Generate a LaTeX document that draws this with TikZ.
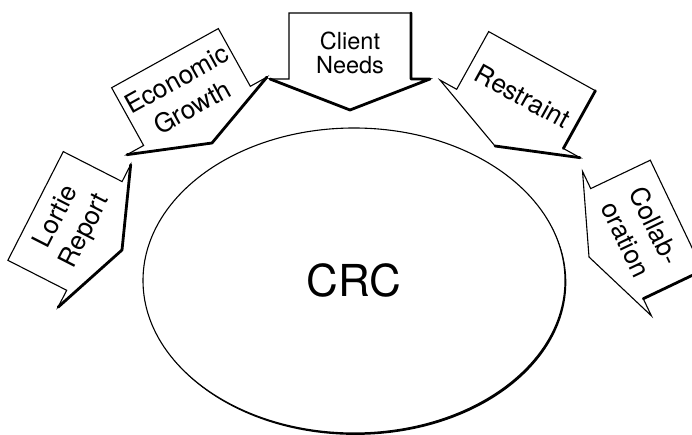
\documentclass[tikz,border=0pt]{standalone}
\usepackage{fontspec}
\setmainfont{TeX Gyre Heros}
\usetikzlibrary{shapes.geometric,shadows}
\begin{document}
\begin{tikzpicture}[x=1pt,y=-1pt,
  thin edge/.style={line width=1.1pt, line join=miter},
  heavy edge/.style={line width=2.8pt, line cap=round, line join=round},
  label text/.style={font=\fontsize{26}{32}\selectfont, align=center, inner sep=0pt},
  % block arrow pointing down, tip at the pic origin
  blockarrow/.pic={
    \coordinate (-bl) at (-61,-97);
    \coordinate (-br) at (61,-97);
    \coordinate (-fr) at (61,-31);
    \coordinate (-sr) at (80,-31);
    \coordinate (-tip) at (0,0);
    \coordinate (-sl) at (-80,-31);
    \coordinate (-fl) at (-61,-31);
    \coordinate (-mid) at (0,-57);
    \draw[thin edge, fill=white] (-bl) -- (-br) -- (-fr) -- (-sr) -- (-tip)
      -- (-sl) -- (-fl) -- cycle;
  }
]
\useasboundingbox (0,0) rectangle (692,435);
\clip (0,0) rectangle (692,435);

% central ellipse
\node[ellipse, draw, line width=1.1pt, fill=white,
      minimum width=422pt, minimum height=305pt, inner sep=0pt,
      drop shadow={shadow xshift=1.3pt, shadow yshift=-1.9pt, fill=black, opacity=1},
      font=\fontsize{44}{44}\selectfont] (crc) at (354,280.5) {CRC};

% the five influences
\pic[rotate=63]    (lr) at (122,250) {blockarrow};
\pic[rotate=29]    (eg) at (212,143) {blockarrow};
\pic               (cn) at (350,110) {blockarrow};
\pic[rotate=-29]   (rs) at (495,146) {blockarrow};
\pic[rotate=-64.5] (co) at (589,257) {blockarrow};

% shaded edges
\draw[heavy edge] (lr-sr) -- (lr-tip) -- (lr-sl);
\draw[heavy edge] (eg-sr) -- (eg-tip) -- (eg-sl);
\draw[heavy edge] (cn-br) -- (cn-fr) -- (cn-sr) -- (cn-tip) -- (cn-sl);
\draw[heavy edge] (rs-br) -- (rs-fr);
\draw[heavy edge] (rs-sr) -- (rs-tip);
\draw[heavy edge] (co-br) -- (co-fr);

% labels
\node[label text, rotate=63]    (lrt) at (lr-mid) {Lortie\\Report};
\node[label text, rotate=29]    (egt) at (eg-mid) {Economic\\Growth};
\node[label text, font=\fontsize{23.5}{24}\selectfont] (cnt) at (cn-mid) {Client\\Needs};
\node[label text, rotate=-29]   (rst) at (rs-mid) {Restraint};
\node[label text, rotate=-64.5] (cot) at (co-mid) {Collab-\\oration};
\end{tikzpicture}
\end{document}
